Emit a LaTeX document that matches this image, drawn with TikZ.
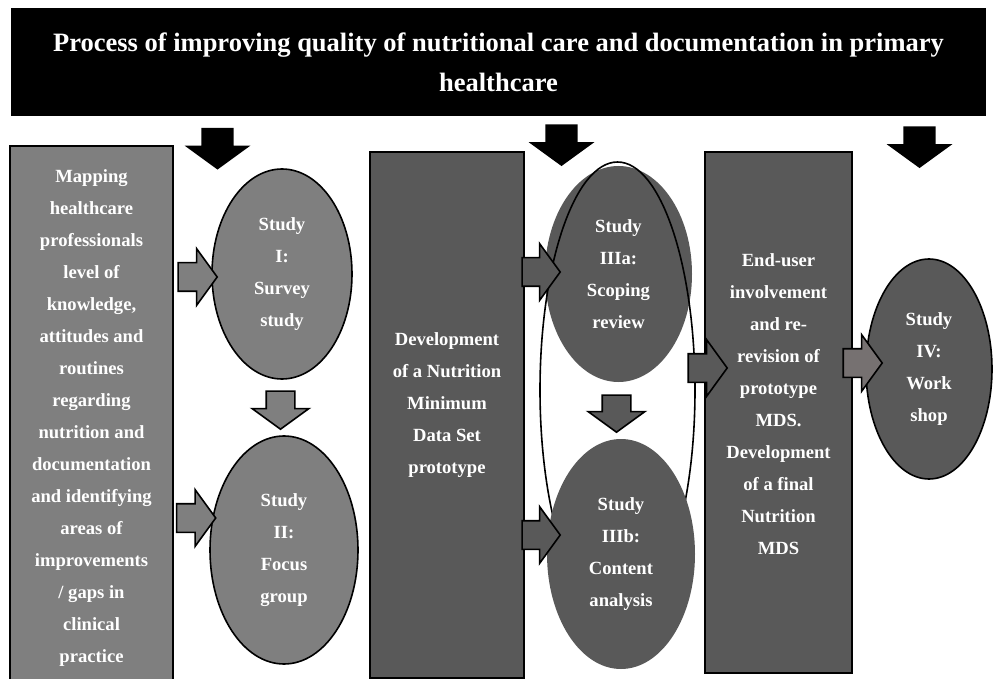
\documentclass[tikz,border=0pt]{standalone}
\usepackage{fontspec}
\setmainfont{Liberation Serif}
\usetikzlibrary{shapes.geometric,shapes.arrows}
\definecolor{midfill}{RGB}{127,127,127}
\definecolor{darkfill}{RGB}{89,89,89}
\definecolor{warmfill}{RGB}{118,113,113}

\begin{document}
\begin{tikzpicture}[x=1pt,y=-1pt,
      panel/.style={draw=black, line width=1.6pt, text=white, align=center,
                    inner sep=0pt, font=\fontsize{18.6}{32}\selectfont\bfseries},
      study/.style={ellipse, text=white, align=center, inner sep=0pt,
                    font=\fontsize{18.6}{32}\selectfont\bfseries},
      blk/.style={single arrow, draw=black, line width=1.6pt, inner xsep=0pt, inner ysep=13.5pt,
                  minimum width=55pt, minimum height=39pt,
                  single arrow head extend=14pt, single arrow tip angle=108},
      down/.style={blk, shape border rotate=270, inner xsep=13.5pt, inner ysep=0pt},
      bigdown/.style={down, fill=black, inner xsep=14.5pt, minimum width=59pt,
                      minimum height=40pt, single arrow head extend=15pt}
    ]
    \useasboundingbox (0,0) rectangle (994,679);
    % heading
    \node[fill=black, minimum width=975pt, minimum height=108pt, inner sep=0pt,
          text=white, align=center, font=\fontsize{26.5}{40}\selectfont\bfseries]
      (head) at (498.5,62) {Process of improving quality of nutritional care and documentation in primary\\healthcare};
    \node[bigdown] (h1) at (217.5,143) {};
    \node[bigdown] (h2) at (561.5,139.5) {};
    \node[bigdown] (h3) at (919.5,141.5) {};
    % first column
    \node[panel, fill=midfill, minimum width=163pt, minimum height=544pt] (map) at (91.5,418) {%
      Mapping\\healthcare\\professionals\\level of\\knowledge,\\attitudes and\\routines\\regarding\\nutrition and\\documentation\\and identifying\\areas of\\improvements\\/ gaps in\\clinical\\practice};
    \node[study, draw=black, line width=1.6pt, fill=midfill, minimum width=140pt, minimum height=210pt] (s1) at (282,274) {Study\\I:\\Survey\\study};
    \node[study, draw=black, line width=1.6pt, fill=midfill, minimum width=148pt, minimum height=228pt] (s2) at (284,550) {Study\\II:\\Focus\\group};
    % second column
    \node[panel, fill=darkfill, minimum width=154pt, minimum height=526pt, text depth=24pt] (mds) at (447,415) {%
      Development\\of a Nutrition\\Minimum\\Data Set\\prototype};
    \node[study, fill=darkfill, minimum width=147pt, minimum height=216pt] (s3a) at (618.5,274) {Study\\IIIa:\\Scoping\\review};
    \node[ellipse, draw=black, line width=1.6pt, minimum width=155pt, minimum height=456pt] (s3) at (617.5,390) {};
    \node[study, fill=darkfill, minimum width=148pt, minimum height=230pt] (s3b) at (621,554) {Study\\IIIb:\\Content\\analysis};
    % third column
    \node[panel, fill=darkfill, minimum width=147pt, minimum height=521pt, text depth=17pt] (final) at (778.5,412.5) {%
      End-user\\involvement\\and re-\\revision of\\prototype\\MDS.\\Development\\of a final\\Nutrition\\MDS};
    \node[study, draw=black, line width=1.6pt, fill=darkfill, minimum width=126pt, minimum height=220pt] (s4) at (929,369) {Study\\IV:\\Work\\shop};
    % block arrows
    \node[blk, fill=midfill] (r1) at (192.5,277) {};
    \node[blk, fill=midfill] (r2) at (191,518) {};
    \node[down, fill=midfill, minimum height=38pt] (d1) at (280.5,405) {};
    \node[blk, fill=darkfill, minimum height=38pt] (r3) at (536,272) {};
    \node[blk, fill=darkfill, minimum height=38pt] (r4) at (536,535) {};
    \node[down, fill=darkfill, minimum height=37pt] (d2) at (616.5,408.5) {};
    \node[blk, fill=darkfill] (r5) at (702.5,368) {};
    \node[blk, fill=warmfill] (r6) at (857.5,363) {};
  \end{tikzpicture}
\end{document}
